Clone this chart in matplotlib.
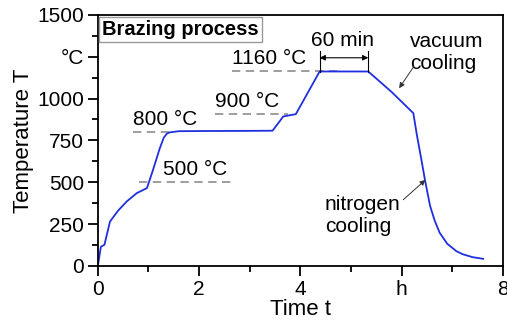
import matplotlib
matplotlib.use("Agg")
import matplotlib.pyplot as plt
from matplotlib.ticker import MultipleLocator, FixedLocator

plt.rcParams['font.family'] = ['Liberation Sans', 'DejaVu Sans']

# brazing cycle
time_h = [0, 0.06, 0.13, 0.24, 0.4, 0.57, 0.77, 0.97, 1.09, 1.22, 1.3, 1.36, 1.42, 1.6, 2.0, 3.0, 3.45,
          3.58, 3.66, 3.91, 4.38, 5.34, 5.8, 6.23, 6.3, 6.39, 6.46, 6.56, 6.65, 6.75, 6.9, 7.08, 7.2, 7.4, 7.61]
temp_c = [0, 114, 126, 265, 330, 385, 435, 465, 574, 700, 765, 790, 798, 805, 806, 807, 808,
          860, 893, 907, 1162, 1162, 1040, 913, 783, 634, 514, 360, 272, 198, 132, 88, 70, 52, 42]

# reference levels: (label, temp, line start, line end, label start)
levels = [("500 °C", 502, 0.81, 2.64, 1.28),
          ("800 °C", 801, 0.69, 1.45, 0.69),
          ("900 °C", 905, 2.31, 3.75, 2.31),
          ("1160 °C", 1162, 2.64, 4.78, 2.64)]

yticks = [0, 250, 500, 750, 1000, 1250, 1500]
ytick_labels = ["0", "250", "500", "750", "1000", "°C", "1500"]
xticks = [0, 2, 4, 6, 8]
xtick_labels = ["0", "2", "4", "h", "8"]

fs = 15

fig = plt.figure(figsize=(5.07, 3.25), dpi=100)
ax = fig.add_axes([0.193, 0.182, 0.799, 0.772])

for lab, t, x0, x1, xl in levels:
    ax.plot([x0, x1], [t, t], ls=(0, (5, 3.3)), color="#8c8c8c", lw=1.2)
    ax.text(xl, t + 75, lab, fontsize=fs, ha="left", va="center")

ax.plot(time_h, temp_c, color="#1f2fe0", lw=1.3)

# 60 min hold
ax.annotate("", xy=(4.38, 1244), xytext=(5.34, 1244),
            arrowprops=dict(arrowstyle="<|-|>", color="black", lw=0.8, mutation_scale=8,
                            shrinkA=0, shrinkB=0))
ax.plot([4.38, 4.38], [1160, 1285], color="black", lw=0.8)
ax.plot([5.34, 5.34], [1160, 1285], color="black", lw=0.8)
ax.text(4.84, 1345, "60 min", fontsize=fs, ha="center", va="center")

ax.text(6.16, 1274, "vacuum\ncooling", fontsize=fs, ha="left", va="center", linespacing=1.2)
ax.annotate("", xy=(5.95, 1062), xytext=(6.24, 1192),
            arrowprops=dict(arrowstyle="-|>", color="#333333", lw=0.7, mutation_scale=8,
                            shrinkA=0, shrinkB=0))
ax.text(4.48, 302, "nitrogen\ncooling", fontsize=fs, ha="left", va="center", linespacing=1.2)
ax.annotate("", xy=(6.47, 514), xytext=(6.03, 395),
            arrowprops=dict(arrowstyle="-|>", color="#333333", lw=0.7, mutation_scale=8,
                            shrinkA=0, shrinkB=0))

ax.text(0.09, 1414, "Brazing process", fontsize=14.5, fontweight="bold", ha="left", va="center",
        bbox=dict(boxstyle="square,pad=0.15", fc="white", ec="#999999", lw=1))

ax.set_xlim(0, 8)
ax.set_ylim(0, 1500)
ax.xaxis.set_major_locator(FixedLocator(xticks))
ax.set_xticklabels(xtick_labels)
ax.xaxis.set_minor_locator(MultipleLocator(1))
ax.yaxis.set_major_locator(FixedLocator(yticks))
ax.set_yticklabels(ytick_labels)
ax.yaxis.set_minor_locator(MultipleLocator(125))
ax.tick_params(which="major", length=7, width=1.3, labelsize=fs, direction="out", pad=3)
ax.tick_params(which="minor", length=4, width=1.3, direction="out")
for s in ax.spines.values():
    s.set_linewidth(1.3)

ax.set_xlabel("Time t", fontsize=fs + 1, labelpad=0)
ax.set_ylabel("Temperature T", fontsize=fs + 1, labelpad=2)

fig.savefig("out.png", dpi=100)
